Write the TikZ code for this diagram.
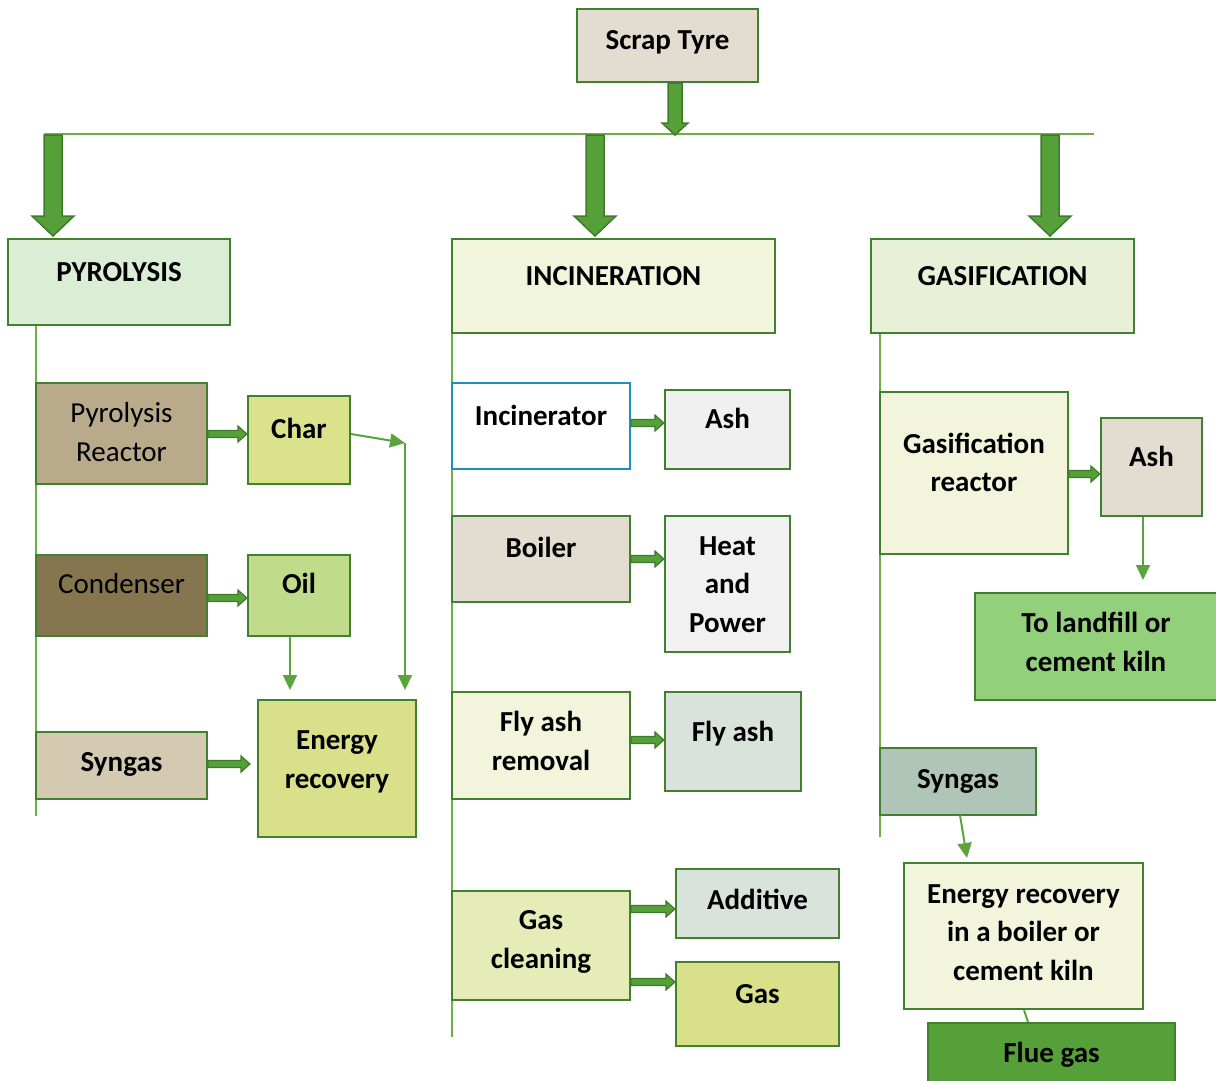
\documentclass[tikz,border=0pt]{standalone}
\usepackage{fontspec}
\setmainfont{Carlito}
\usetikzlibrary{arrows.meta,calc}
\definecolor{bdr}{HTML}{41802E}
\definecolor{afill}{HTML}{56A03A}
\definecolor{adark}{HTML}{3F7A2B}
\definecolor{conncol}{HTML}{5AA33D}
\definecolor{buscol}{HTML}{70AD47}
\definecolor{incbdr}{HTML}{1E90C0}
\definecolor{cbeige}{HTML}{E2DDD0}
\definecolor{cpyro}{HTML}{DCEDD5}
\definecolor{cincin}{HTML}{F1F5DB}
\definecolor{cgasif}{HTML}{E8F1D7}
\definecolor{creactor}{HTML}{B8AA8A}
\definecolor{cchar}{HTML}{DAE28C}
\definecolor{ccond}{HTML}{857650}
\definecolor{coil}{HTML}{C0DC8A}
\definecolor{csynl}{HTML}{D3CAB1}
\definecolor{cenerl}{HTML}{D8E08A}
\definecolor{cash}{HTML}{F0F0F0}
\definecolor{cheat}{HTML}{F1F1F1}
\definecolor{cpale}{HTML}{F2F5DC}
\definecolor{cgrey}{HTML}{D9E3DC}
\definecolor{cgascl}{HTML}{E5ECB7}
\definecolor{cgas}{HTML}{D9E08A}
\definecolor{clandfill}{HTML}{93D07C}
\definecolor{csynr}{HTML}{AEC5B7}
\definecolor{cflue}{HTML}{56A03A}
\newcommand\liftup[2]{\raisebox{#1}[\height][\depth]{\begin{tabular}{@{}c@{}}#2\end{tabular}}}
\tikzset{
  box/.style={draw=bdr, line width=2.2pt, inner sep=2pt, align=center,
    font=\fontsize{29}{38.5}\selectfont\bfseries},
  reg/.style={font=\fontsize{29}{39}\selectfont},
  tu/.style={text height=20pt, text depth=#1},
  conn/.style={draw=conncol, line width=2pt, -{Triangle[length=15pt,width=14pt]}},
  plainconn/.style={draw=conncol, line width=2pt},
  busline/.style={draw=buscol, line width=1.3pt},
  blockright/.style={fill=afill, draw=adark, line width=1.2pt,
    to path={let \p1=(\tikztostart), \p2=(\tikztotarget) in
      (\x1,\y1+3.5pt) -- (\x2-9pt,\y1+3.5pt) -- (\x2-9pt,\y1+8pt) -- (\x2,\y1)
      -- (\x2-9pt,\y1-8pt) -- (\x2-9pt,\y1-3.5pt) -- (\x1,\y1-3.5pt) -- cycle}},
  blockdown/.style n args={3}{fill=afill, draw=adark, line width=1.5pt,
    to path={let \p1=(\tikztostart), \p2=(\tikztotarget) in
      (\x1-#1,\y1) -- (\x1+#1,\y1) -- (\x1+#1,\y2+#3) -- (\x1+#2,\y2+#3)
      -- (\x1,\y2) -- (\x1-#2,\y2+#3) -- (\x1-#1,\y2+#3) -- cycle}},
}
\begin{document}
\begin{tikzpicture}[x=1pt,y=-1pt]
\useasboundingbox (0,0) rectangle (1216,1081);
% ---- top
\node[box, fill=cbeige, minimum width=181pt, minimum height=73pt, tu=11.4pt] (scrap) at (667.5,45.5) {Scrap Tyre};
% headers
\node[box, fill=cpyro, minimum width=222pt, minimum height=86pt, tu=21.4pt] (pyro) at (119,282) {PYROLYSIS};
\node[box, fill=cincin, minimum width=323pt, minimum height=94pt, tu=21.4pt] (incin) at (613.5,286) {INCINERATION};
\node[box, fill=cgasif, minimum width=263pt, minimum height=94pt, tu=21.4pt] (gasif) at (1002.5,286) {GASIFICATION};
% bus
\coordinate (busL) at (44,134);
\coordinate (busR) at (1094,134);
\draw[busline] (busL) -- (busR);
\draw[blockdown={7pt}{13pt}{12pt}] (scrap.south -| 675,0) to (675,135);
\coordinate (b1) at (53,135);
\coordinate (b2) at (595,135);
\coordinate (b3) at (1050,135);
\draw[blockdown={9pt}{21pt}{20pt}] (b1) to (53,236);
\draw[blockdown={9pt}{21pt}{20pt}] (b2) to (595,236);
\draw[blockdown={9pt}{21pt}{20pt}] (b3) to (1050,236);
% column lines
\draw[busline] (pyro.south -| 36,0) -- (36,816);
\draw[busline] (incin.south -| 452,0) -- (452,1037);
\draw[busline] (gasif.south -| 880,0) -- (880,837);
% ---- pyrolysis column
\node[box, reg, fill=creactor, minimum width=171pt, minimum height=101pt] (reactor) at (121.5,433.5) {\liftup{-1pt}{Pyrolysis\\Reactor}};
\node[box, fill=cchar, minimum width=102pt, minimum height=88pt, tu=23.4pt] (char) at (299,440) {Char};
\node[box, reg, fill=ccond, minimum width=171pt, minimum height=81pt, tu=23.4pt] (cond) at (121.5,595.5) {Condenser};
\node[box, fill=coil, minimum width=102pt, minimum height=81pt, tu=23.4pt] (oil) at (299,595.5) {Oil};
\node[box, fill=csynl, minimum width=171pt, minimum height=67pt, tu=7.4pt] (synL) at (121.5,765.5) {Syngas};
\node[box, fill=cenerl, minimum width=158pt, minimum height=137pt] (enerL) at (337,768.5) {\liftup{7pt}{Energy\\recovery}};
\draw[blockright] (reactor.east |- 0,434) to (char.west |- 0,434);
\draw[blockright] (cond.east |- 0,598) to (oil.west |- 0,598);
\coordinate (synE) at (250,764);
\draw[blockright] (synL.east |- 0,764) to (synE);
\coordinate (cc) at (405,443);
\coordinate (ccE) at (405,690);
\coordinate (oilE) at (290,690);
\draw[conn] (char.east |- 0,434) -- (cc);
\draw[conn] (cc) -- (ccE);
\draw[conn] (oil.south -| 290,0) -- (oilE);
% ---- incineration column
\node[box, draw=incbdr, fill=white, minimum width=178pt, minimum height=86pt, tu=21.4pt] (incr) at (541,426) {Incinerator};
\node[box, fill=cash, minimum width=125pt, minimum height=79pt, tu=21.4pt] (ashI) at (727.5,429.5) {Ash};
\node[box, fill=cbeige, minimum width=178pt, minimum height=86pt, tu=23.4pt] (boiler) at (541,559) {Boiler};
\node[box, fill=cheat, minimum width=125pt, minimum height=136pt] (heat) at (727.5,584) {\liftup{-2pt}{Heat\\and\\Power}};
\node[box, fill=cpale, minimum width=178pt, minimum height=107pt] (flyrem) at (541,745.5) {\liftup{2pt}{Fly ash\\removal}};
\node[box, fill=cgrey, minimum width=136pt, minimum height=99pt, tu=19.4pt] (flyash) at (733,741.5) {Fly ash};
\node[box, fill=cgascl, minimum width=178pt, minimum height=109pt] (gascl) at (541,945.5) {\liftup{4pt}{Gas\\cleaning}};
\node[box, fill=cgrey, minimum width=163pt, minimum height=69pt, tu=7.4pt] (additive) at (757.5,903.5) {Additive};
\node[box, fill=cgas, minimum width=163pt, minimum height=84pt, tu=21.4pt] (gas) at (757.5,1004) {Gas};
\draw[blockright] (incr.east |- 0,423) to (ashI.west |- 0,423);
\draw[blockright] (boiler.east |- 0,559) to (heat.west |- 0,559);
\draw[blockright] (flyrem.east |- 0,740) to (flyash.west |- 0,740);
\draw[blockright] (gascl.east |- 0,909) to (additive.west |- 0,909);
\draw[blockright] (gascl.east |- 0,982) to (gas.west |- 0,982);
% ---- gasification column
\node[box, fill=cpale, minimum width=188pt, minimum height=162pt] (gasr) at (974,473) {\liftup{8pt}{Gasification\\reactor}};
\node[box, fill=cbeige, minimum width=101pt, minimum height=98pt, tu=21.4pt] (ashG) at (1151.5,467) {Ash};
\node[box, fill=clandfill, minimum width=242pt, minimum height=107pt] (landfill) at (1096,646.5) {\liftup{2pt}{To landfill or\\cement kiln}};
\node[box, fill=csynr, minimum width=156pt, minimum height=67pt, tu=5.4pt] (synR) at (958,781.5) {Syngas};
\node[box, fill=cpale, minimum width=239pt, minimum height=146pt] (enerR) at (1023.5,936) {\liftup{2pt}{Energy recovery\\in a boiler or\\cement kiln}};
\node[box, fill=cflue, minimum width=247pt, minimum height=67pt, tu=7.4pt] (flue) at (1051.5,1056.5) {Flue gas};
\draw[blockright] (gasr.east |- 0,474) to (ashG.west |- 0,474);
\coordinate (ashGE) at (1143,580);
\draw[conn] (ashG.south -| 1143,0) -- (ashGE);
\coordinate (synRS) at (960,815);
\coordinate (enerRN) at (967,858);
\draw[conn] (synRS) -- (enerRN);
\draw[plainconn] (enerR.south -| 1024,0) -- (flue.north -| 1028,0);
\end{tikzpicture}
\end{document}
